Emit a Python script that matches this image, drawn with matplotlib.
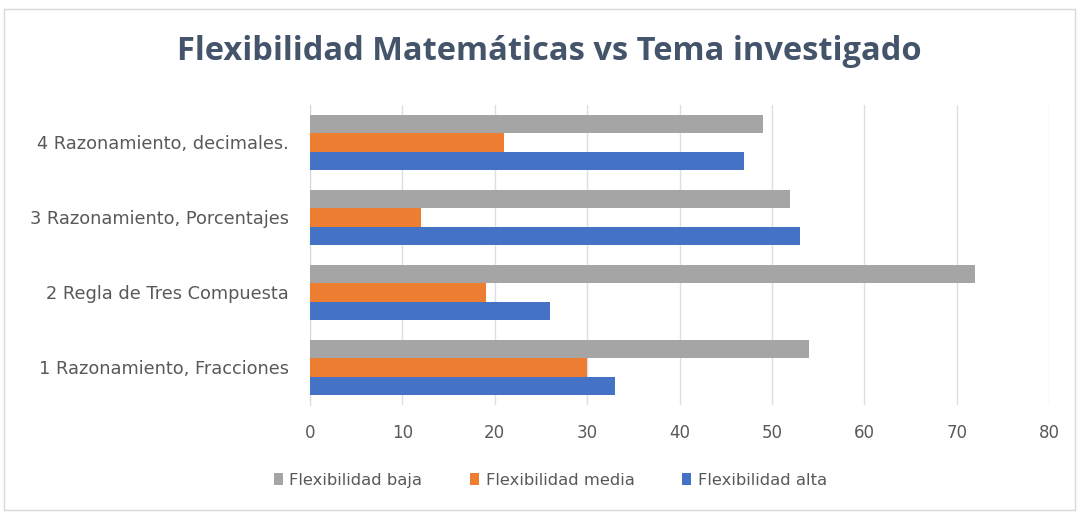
import matplotlib
matplotlib.use("Agg")
import matplotlib.pyplot as plt
import numpy as np
from matplotlib.patches import Rectangle

categories = [
    "1 Razonamiento, Fracciones",
    "2 Regla de Tres Compuesta",
    "3 Razonamiento, Porcentajes",
    "4 Razonamiento, decimales.",
]
flex_baja = [54, 72, 52, 49]
flex_media = [30, 19, 12, 21]
flex_alta = [33, 26, 53, 47]
x_ticks = [0, 10, 20, 30, 40, 50, 60, 70, 80]

GRAY = "#A5A5A5"
ORANGE = "#ED7D31"
BLUE = "#4472C4"
TEXT = "#595959"

fig = plt.figure(figsize=(10.79, 5.12), dpi=100)
fig.patches.append(Rectangle((0.004, 0.004), 0.992, 0.978, transform=fig.transFigure,
                             fill=False, edgecolor="#D9D9D9", linewidth=1))

ax = fig.add_axes([0.2873, 0.209, 0.6849, 0.586])
y = np.arange(len(categories))
h = 0.245

ax.barh(y + h, flex_baja, height=h, color=GRAY, label="Flexibilidad baja", zorder=3)
ax.barh(y, flex_media, height=h, color=ORANGE, label="Flexibilidad media", zorder=3)
ax.barh(y - h, flex_alta, height=h, color=BLUE, label="Flexibilidad alta", zorder=3)

ax.set_xlim(0, 80)
ax.set_ylim(-0.5, 3.5)
ax.set_xticks(x_ticks)
ax.set_yticks(y)
ax.set_yticklabels(categories)
ax.tick_params(axis="both", length=0, labelsize=12, colors=TEXT)
ax.tick_params(axis="y", labelsize=12.8, pad=15)
ax.tick_params(axis="x", pad=14)
ax.grid(axis="x", color="#DCE0E6", linewidth=1, zorder=0)
for s in ["top", "right", "bottom"]:
    ax.spines[s].set_visible(False)
ax.spines["left"].set_color("#D9D9D9")

fig.text(0.509, 0.899, "Flexibilidad Matemáticas vs Tema investigado", ha="center", va="center",
         fontsize=23.5, fontweight="bold", color="#44546A", family="Open Sans")

leg = fig.legend(loc="center", bbox_to_anchor=(0.51, 0.062), ncol=3, frameon=False,
                 fontsize=11.8, handlelength=0.55, handleheight=0.7, handletextpad=0.4,
                 columnspacing=2.9)
for t in leg.get_texts():
    t.set_color(TEXT)

fig.savefig("out.png", dpi=100)
